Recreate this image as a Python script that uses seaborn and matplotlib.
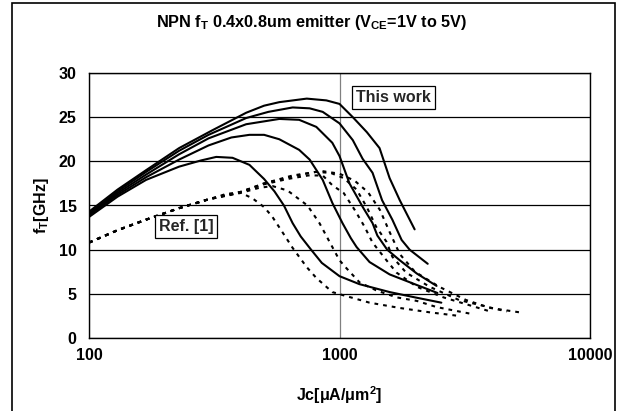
import numpy as np
import matplotlib
matplotlib.use("Agg")
import matplotlib.pyplot as plt
from matplotlib.patches import Rectangle
from matplotlib.ticker import FixedLocator, NullFormatter, MultipleLocator
import seaborn as sns
import pandas as pd

# ---------- data ----------
# This work: solid curves, VCE = 1V .. 5V
j_1v = [100, 130, 169, 229, 280, 322, 374, 437, 500, 550, 600, 650, 700, 770, 850, 1000, 1200, 1585, 2000, 2550]
f_1v = [13.7, 16.0, 17.9, 19.4, 20.1, 20.5, 20.4, 19.6, 18.0, 16.6, 15.0, 13.0, 11.5, 10.0, 8.5, 7.0, 6.1, 5.2, 4.6, 4.0]

j_2v = [100, 130, 169, 229, 300, 370, 437, 500, 575, 690, 760, 857, 936, 1028, 1110, 1170, 1318, 1585, 2035, 2460]
f_2v = [13.9, 16.2, 18.2, 20.2, 21.8, 22.7, 23.0, 23.0, 22.5, 21.3, 20.2, 17.9, 15.3, 13.0, 11.3, 10.3, 8.6, 7.2, 6.0, 5.1]

j_3v = [100, 130, 169, 229, 300, 424, 575, 690, 808, 936, 1000, 1096, 1240, 1355, 1416, 1550, 1740, 2035, 2440]
f_3v = [14.0, 16.4, 18.5, 20.8, 22.6, 24.2, 24.8, 24.7, 23.9, 22.1, 20.6, 17.5, 14.8, 13.0, 11.6, 10.0, 8.8, 7.3, 5.9]

j_4v = [100, 130, 169, 229, 300, 424, 520, 650, 760, 857, 1000, 1130, 1236, 1355, 1479, 1625, 1770, 1905, 2250]
f_4v = [14.1, 16.6, 18.8, 21.2, 23.0, 24.9, 25.6, 26.1, 26.0, 25.6, 24.3, 22.4, 20.3, 18.7, 15.6, 13.4, 11.1, 10.0, 8.4]

j_5v = [100, 130, 169, 229, 310, 424, 500, 575, 740, 886, 1000, 1130, 1286, 1445, 1585, 1740, 1995]
f_5v = [14.3, 16.8, 19.0, 21.5, 23.5, 25.5, 26.3, 26.7, 27.1, 26.9, 26.5, 25.0, 23.3, 21.5, 18.1, 15.6, 12.3]

# Ref. [1]: dotted curves
jr_1 = [100, 130, 169, 229, 300, 352, 400, 450, 501, 540, 585, 650, 741, 808, 936, 1047, 1318, 1740, 2300, 3000]
fr_1 = [10.8, 12.2, 13.4, 14.7, 15.7, 16.3, 16.5, 15.8, 14.8, 13.7, 12.2, 10.2, 8.0, 6.8, 5.2, 4.8, 4.0, 3.4, 2.9, 2.5]

jr_2 = [100, 130, 169, 229, 300, 400, 478, 540, 620, 745, 832, 912, 1000, 1066, 1202, 1400, 1690, 2035, 2443, 3400]
fr_2 = [10.8, 12.2, 13.4, 14.7, 15.7, 16.4, 17.0, 17.2, 16.7, 15.0, 13.0, 10.9, 8.8, 7.9, 6.3, 5.4, 4.6, 4.2, 3.5, 2.7]

jr_3 = [100, 130, 169, 229, 300, 400, 500, 620, 750, 857, 936, 1040, 1150, 1259, 1355, 1540, 1690, 2035, 2600, 4000]
fr_3 = [10.8, 12.2, 13.4, 14.7, 15.7, 16.5, 17.4, 18.0, 18.4, 18.4, 17.3, 16.4, 14.5, 12.6, 10.8, 8.8, 7.4, 5.8, 4.6, 3.0]

jr_4 = [100, 130, 169, 229, 300, 400, 500, 650, 800, 920, 1040, 1170, 1286, 1400, 1540, 1625, 1845, 2290, 3000, 4650]
fr_4 = [10.8, 12.2, 13.4, 14.7, 15.7, 16.5, 17.5, 18.3, 18.8, 18.7, 18.1, 16.8, 14.8, 12.6, 10.9, 9.2, 7.4, 5.8, 4.3, 3.0]

jr_5 = [100, 130, 169, 229, 300, 400, 500, 650, 850, 1000, 1150, 1300, 1450, 1585, 1740, 2000, 2500, 3200, 4000, 5250]
fr_5 = [10.8, 12.2, 13.4, 14.7, 15.7, 16.5, 17.5, 18.4, 18.9, 18.6, 17.8, 16.5, 14.5, 12.0, 9.5, 7.5, 5.8, 4.3, 3.4, 2.9]

this_work = [(j_1v, f_1v), (j_2v, f_2v), (j_3v, f_3v), (j_4v, f_4v), (j_5v, f_5v)]
ref_1 = [(jr_1, fr_1), (jr_2, fr_2), (jr_3, fr_3), (jr_4, fr_4), (jr_5, fr_5)]

# ---------- style ----------
sns.set_theme(style="white")
plt.rcParams['font.family'] = ['Liberation Sans', 'DejaVu Sans']
plt.rcParams['font.weight'] = 'bold'
plt.rcParams['mathtext.fontset'] = 'custom'
plt.rcParams['mathtext.rm'] = 'Liberation Sans:bold'
plt.rcParams['mathtext.it'] = 'Liberation Sans:bold'
plt.rcParams['mathtext.bf'] = 'Liberation Sans:bold'
plt.rcParams['mathtext.default'] = 'rm'

fig = plt.figure(figsize=(6.23, 4.11), dpi=100, facecolor='white')
ax = fig.add_axes([89 / 623, 1 - 338 / 411, (590 - 89) / 623, (338 - 73) / 411])

for jj, ff in ref_1:
    sns.lineplot(x=jj, y=ff, ax=ax, color='black', lw=1.5, sort=False,
                 estimator=None, linestyle=(0, (1.8, 2.4)))
for jj, ff in this_work:
    sns.lineplot(x=jj, y=ff, ax=ax, color='black', lw=1.5, sort=False, estimator=None)

ax.set_xscale('log')
ax.set_xlim(100, 10000)
ax.set_ylim(0, 30)
ax.yaxis.set_major_locator(MultipleLocator(5))
ax.yaxis.set_minor_locator(MultipleLocator(1))
ax.xaxis.set_major_locator(FixedLocator([100, 1000, 10000]))
ax.xaxis.set_minor_locator(FixedLocator([k * d for d in (100, 1000) for k in range(2, 10)]))
ax.xaxis.set_minor_formatter(NullFormatter())
ax.set_xticklabels(['100', '1000', '10000'])

ax.yaxis.grid(True, which='major', color='black', lw=0.9)
ax.xaxis.grid(True, which='major', color='#808080', lw=0.9)
ax.set_axisbelow(True)

ax.tick_params(axis='both', which='both', direction='in', colors='black',
               labelsize=11.5, width=0.9)
ax.tick_params(axis='both', which='major', length=4)
ax.tick_params(axis='both', which='minor', length=3)
ax.tick_params(axis='y', which='major', pad=9)
ax.tick_params(axis='x', which='major', pad=7)
for lab in ax.get_xticklabels() + ax.get_yticklabels():
    lab.set_fontweight('bold')

for sp in ax.spines.values():
    sp.set_visible(True)
    sp.set_color('black')
    sp.set_linewidth(1.0)

ax.set_xlabel(r'Jc[μA/μm$^{2}$]', fontsize=11.5, fontweight='bold', color='black')
ax.set_ylabel(r'f$_{T}$[GHz]', fontsize=11.5, fontweight='bold', color='black')
ax.xaxis.set_label_coords(0.5, -0.175)
ax.yaxis.set_label_coords(-0.075, 0.5)

box = dict(boxstyle='square,pad=0.25', fc='white', ec='black', lw=0.9)
ax.text(1644, 27.2, 'This work', fontsize=11.5, fontweight='bold', ha='center', va='center', bbox=box)
ax.text(244, 12.6, 'Ref. [1]', fontsize=11.5, fontweight='bold', ha='center', va='center', bbox=box)

fig.text(0.5, 1 - 22 / 411, r'NPN f$_{T}$ 0.4x0.8um emitter (V$_{CE}$=1V to 5V)',
         ha='center', va='center', fontsize=11.7, fontweight='bold', color='black')

fig.patches.append(Rectangle((12 / 623, -0.05), (615 - 12) / 623, 1.05 - 3 / 411,
                             transform=fig.transFigure, fill=False, ec='black', lw=1.2))

fig.savefig('out.png', dpi=100, facecolor='white')
